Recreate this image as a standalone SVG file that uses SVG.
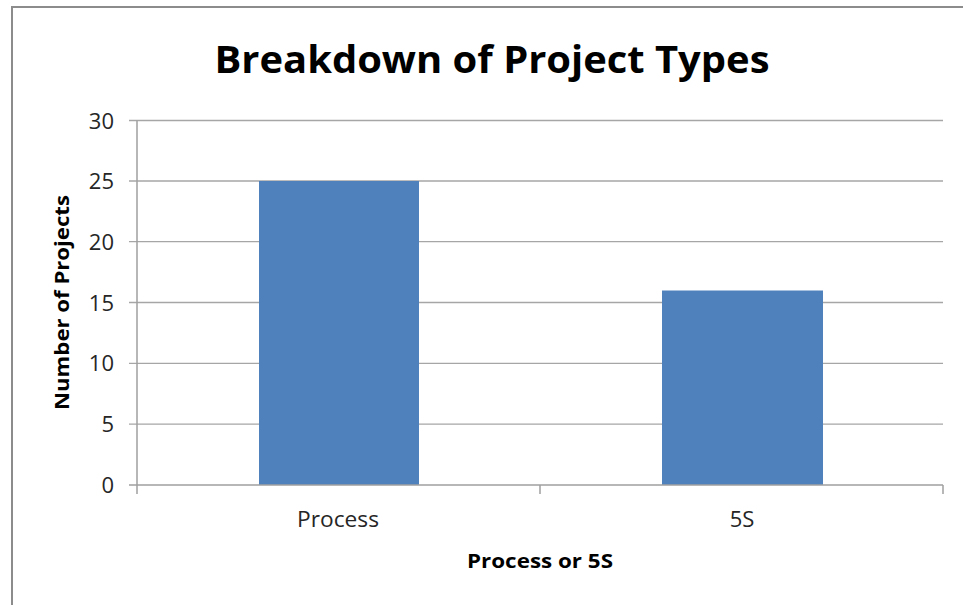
<svg xmlns="http://www.w3.org/2000/svg" width="963" height="605" viewBox="0 0 963 605">
<style>
.grid{stroke:#a6a6a6;stroke-width:1.3;fill:none}
.axis{stroke:#a0a0a0;stroke-width:1.5;fill:none}
.bar{fill:#4f81bd}
.tick{font-family:"Open Sans","Liberation Sans",sans-serif;font-size:22px;fill:#262626}
.bold{font-family:"Open Sans","Liberation Sans",sans-serif;font-weight:bold;fill:#000}
</style>
<rect x="0" y="0" width="963" height="605" fill="#fff"/>
<path d="M12 605 V7 H963" stroke="#8c8c8c" stroke-width="2" fill="none"/>
<g id="title"><text class="bold" x="492" y="73" font-size="38" text-anchor="middle" textLength="555" lengthAdjust="spacingAndGlyphs">Breakdown of Project Types</text></g>
<g id="gridlines">
<path class="grid" d="M129 120.5H943M129 181H943M129 241.7H943M129 302.5H943M129 363.3H943M129 424.2H943"/>
</g>
<g id="bars">
<rect id="bar-process" class="bar" x="259" y="181" width="160" height="304"/>
<rect id="bar-5s" class="bar" x="662" y="290.5" width="161" height="194.5"/>
</g>
<g id="axes">
<path class="axis" d="M137 120.5V485M129 485H943M137 485V494M540 485V494M943 485V494"/>
</g>
<g id="y-labels" text-anchor="end">
<text class="tick" x="114" y="128.5">30</text>
<text class="tick" x="114" y="189">25</text>
<text class="tick" x="114" y="249.5">20</text>
<text class="tick" x="114" y="310.5">15</text>
<text class="tick" x="114" y="371">10</text>
<text class="tick" x="114" y="432">5</text>
<text class="tick" x="114" y="493">0</text>
</g>
<g id="x-labels" text-anchor="middle">
<text class="tick" x="338" y="527" textLength="82" lengthAdjust="spacingAndGlyphs">Process</text>
<text class="tick" x="742" y="527">5S</text>
</g>
<g id="axis-titles">
<text class="bold" x="540" y="568" font-size="20" text-anchor="middle" textLength="146" lengthAdjust="spacingAndGlyphs">Process or 5S</text>
<text class="bold" transform="translate(69 302.5) rotate(-90)" font-size="20" text-anchor="middle" textLength="215" lengthAdjust="spacingAndGlyphs">Number of Projects</text>
</g>
</svg>
